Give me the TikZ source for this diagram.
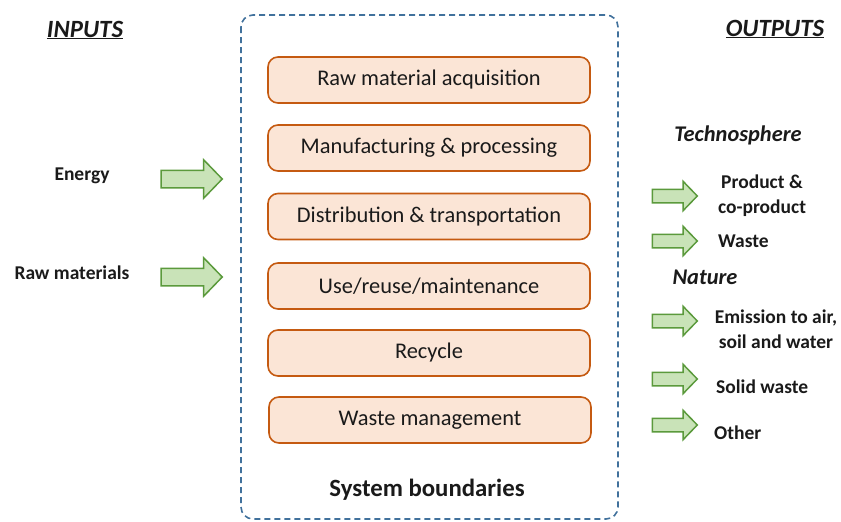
\documentclass[tikz,border=0pt]{standalone}
\usepackage{fontspec}
\setmainfont{Carlito}
\usetikzlibrary{shapes.arrows}
\definecolor{bnd}{HTML}{41719C}
\definecolor{procfill}{HTML}{FBE5D6}
\definecolor{procdraw}{HTML}{C55A11}
\definecolor{arrfill}{HTML}{C9E3B8}
\definecolor{arrdraw}{HTML}{5B9A3C}
\definecolor{txt}{HTML}{1A1A1A}
\tikzset{
  procbox/.style={draw=procdraw, fill=procfill, line width=1.6pt, rounded corners=10pt,
    minimum width=322pt, minimum height=46pt, inner sep=0pt,
    font=\fontsize{22.4}{26}\selectfont, text=txt},
  inarrow/.style={single arrow, draw=arrdraw, fill=arrfill, line width=1.5pt,
    minimum height=61pt, minimum width=38pt, inner sep=8pt, single arrow head extend=10.5pt,
    single arrow tip angle=92},
  outarrow/.style={single arrow, draw=arrdraw, fill=arrfill, line width=1.5pt,
    minimum height=45pt, minimum width=29pt, inner sep=6pt, single arrow head extend=8pt,
    single arrow tip angle=92},
  lbl/.style={font=\fontsize{19.5}{25}\selectfont\bfseries, text=txt, inner sep=0pt, align=center},
  head/.style={font=\fontsize{22.4}{26}\selectfont\bfseries\itshape, text=txt, inner sep=0pt},
  bighead/.style={font=\fontsize{24.8}{28}\selectfont\bfseries\itshape, text=txt, inner sep=0pt},
}
\begin{document}
\begin{tikzpicture}[x=1pt,y=-1pt]
\useasboundingbox (0,0) rectangle (841,522);
\draw[bnd, line width=1.6pt, dash pattern=on 6pt off 4pt, rounded corners=12pt]
  (241,15) rectangle (618,519);
\node[procbox] (p1) at (429,80) {Raw material acquisition};
\node[procbox] (p2) at (429,148) {Manufacturing \& processing};
\node[procbox] (p3) at (429,216.5) {Distribution \& transportation};
\node[procbox] (p4) at (429,286) {Use/reuse/maintenance};
\node[procbox] (p5) at (429,353) {Recycle};
\node[procbox] (p6) at (430,420) {Waste management};
\node[font=\fontsize{24.8}{28}\selectfont\bfseries, text=txt, inner sep=0pt] (sb) at (427,490) {System boundaries};

\node[bighead] (in) at (85,30) {\underline{INPUTS}};
\node[bighead] (out) at (775,29) {\underline{OUTPUTS}};

\node[lbl] (energy) at (82,176) {Energy};
\node[lbl] (raw) at (72,273) {Raw materials};
\node[inarrow] (a1) at (187.5,179) {};
\node[inarrow] (a2) at (187.5,277) {};

\node[head] (techno) at (738,135) {Technosphere};
\node[lbl] (prod) at (762,196) {Product \&\\co-product};
\node[lbl, anchor=west] (waste) at (718,241) {Waste};
\node[head] (nature) at (705,277) {Nature};
\node[lbl] (emis) at (776,329) {Emission to air,\\soil and water};
\node[lbl, anchor=west] (solid) at (716,387) {Solid waste};
\node[lbl, anchor=west] (other) at (714,433) {Other};

\node[outarrow] (o1) at (671.5,196) {};
\node[outarrow] (o2) at (671.5,241) {};
\node[outarrow] (o3) at (671.5,321) {};
\node[outarrow] (o4) at (671.5,379) {};
\node[outarrow] (o5) at (671.5,425) {};
\end{tikzpicture}
\end{document}
